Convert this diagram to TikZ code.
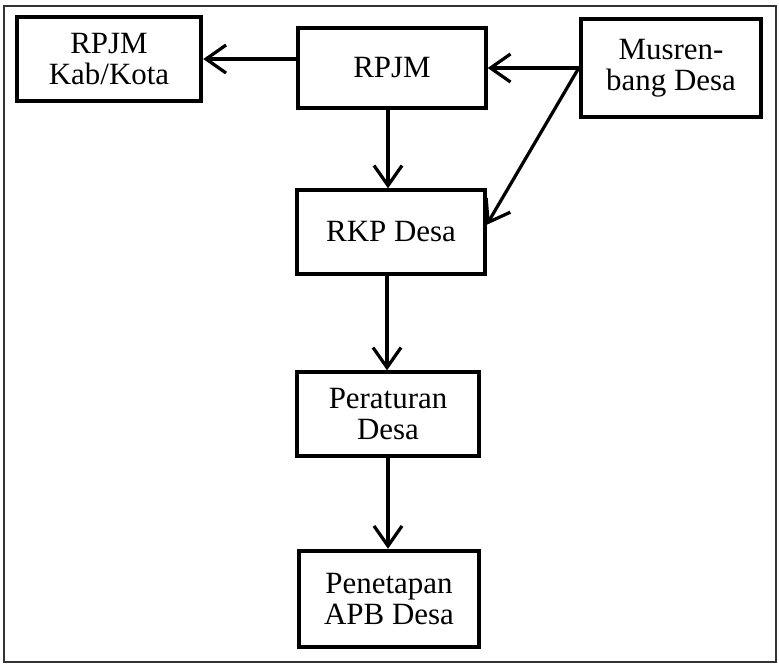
\documentclass[tikz,border=0pt]{standalone}
\usepackage{fontspec}
\setmainfont{Liberation Serif}
\usetikzlibrary{positioning}
\usetikzlibrary{arrows.meta}
\def\boxWidth{4.7}
\def\boxHeight{2.1}
\def\boxFont{\fontsize{22}{22}\selectfont}
\tikzset{% flow chart styles
  stage/.style = {draw, rectangle, line width=2.4pt, align=center,
    minimum width=\boxWidth cm, minimum height=\boxHeight cm, inner sep=2pt, font=\boxFont},
  heavy/.style = {stage, line width=3.2pt},
  flow/.style  = {->, line width=2.3pt},
}
\begin{document}
\begin{tikzpicture}[>={Straight Barb[length=0.5cm, width=0.7cm, line width=2.3pt]}]
      \useasboundingbox (0,0) rectangle (19.475,-16.7);
      \draw[line width=1.5pt, black!80] (0.1,-0.15) rectangle (19.4,-16.55);

      % Top row
      \node[heavy, minimum width=4.6cm] (KabKota) at (2.725,-1.475) {RPJM\\Kab/Kota};
      \node[stage, minimum height=2.0cm] (RPJM) at (9.8,-1.7) {RPJM};
      \node[heavy, minimum width=4.5cm, minimum height=2.45cm] (Musren) at (16.775,-1.7) {Musren-\\bang Desa};

      % Main column
      \node[stage] (RKP) at (9.775,-5.8) {RKP Desa};
      \node[stage, minimum width=4.55cm] (Perdes) at (9.7,-10.35) {Peraturan\\Desa};
      \node[heavy, minimum width=4.5cm, minimum height=2.4cm] (APBDes) at (9.725,-14.975) {Penetapan\\APB Desa};

      % Connectors
      \draw[flow] (KabKota.east -| RPJM.west) -- (KabKota.east);
      \draw[flow] (Musren.west) -- (RPJM.east);
      \draw[flow] (Musren.west) -- ([yshift=0.18cm]RKP.east);
      \draw[flow] ([xshift=-0.1cm]RPJM.south) -- ([xshift=-0.1cm]RPJM.south |- RKP.north);
      \draw[flow] ([xshift=-0.1cm]RKP.south) -- ([xshift=-0.1cm]RKP.south |- Perdes.north);
      \draw[flow] (Perdes.south) -- (Perdes.south |- APBDes.north);
\end{tikzpicture}
\end{document}
